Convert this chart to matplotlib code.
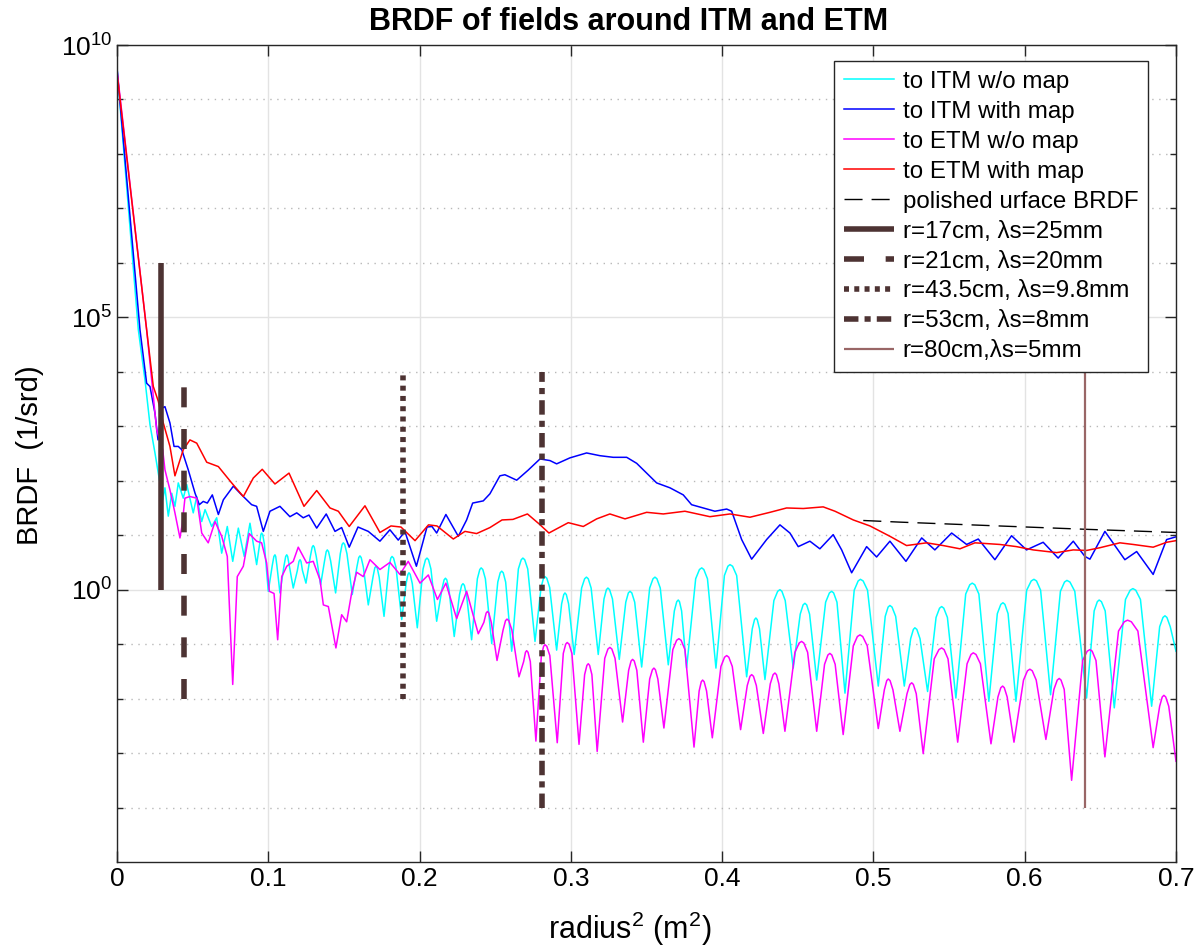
import numpy as np
import matplotlib
matplotlib.use("Agg")
import matplotlib.pyplot as plt
from matplotlib.ticker import FixedLocator, NullFormatter, LogFormatterMathtext

plt.rcParams["font.family"] = ["Liberation Sans", "DejaVu Sans"]
plt.rcParams["mathtext.default"] = "regular"

# (radius^2 [m^2], log10 BRDF [1/srd])
itm_nomap = [
    (0, 9.58), (0.0141, 4.77), (0.0185, 3.85), (0.0218, 3.03), (0.0251, 2.51),
    (0.0302, 1.65), (0.0317, 1.87), (0.0339, 1.35), (0.0362, 1.77), (0.0383, 1.53),
    (0.0405, 1.96), (0.0438, 1.68), (0.0461, 1.93), (0.0504, 1.41), (0.0527, 1.71),
    (0.0560, 1.25), (0.0582, 1.47), (0.0626, 1.16), (0.0659, 1.32), (0.0692, 0.67),
    (0.0729, 1.16), (0.0765, 0.52), (0.0802, 1.13), (0.0841, 0.61), (0.0879, 1.22),
    (0.0923, 0.46),
    (0.0943, 0.84), (0.0951, 1.01), (0.0956, 1.04), (0.0963, 1.01), (0.0974, 0.84), (0.1000, -0.03),
    (0.1026, 0.44), (0.1037, 0.61), (0.1044, 0.64), (0.1049, 0.61), (0.1057, 0.44), (0.1077, -0.06),
    (0.1104, 0.44), (0.1115, 0.61), (0.1122, 0.64), (0.1128, 0.61), (0.1139, 0.44), (0.1165, 0.03),
    (0.1192, 0.35), (0.1203, 0.52), (0.1210, 0.55), (0.1216, 0.52), (0.1226, 0.35), (0.1249, 0.12),
    (0.1278, 0.61), (0.1290, 0.78), (0.1297, 0.81), (0.1304, 0.78), (0.1317, 0.61), (0.1346, 0.09),
    (0.1372, 0.53), (0.1383, 0.70), (0.1390, 0.73), (0.1398, 0.70), (0.1412, 0.53), (0.1445, -0.06),
    (0.1476, 0.66), (0.1488, 0.83), (0.1496, 0.86), (0.1505, 0.83), (0.1520, 0.66), (0.1555, -0.09),
    (0.1586, 0.42), (0.1598, 0.59), (0.1606, 0.62), (0.1614, 0.59), (0.1628, 0.42), (0.1661, -0.28),
    (0.1692, 0.23), (0.1704, 0.40), (0.1712, 0.43), (0.1720, 0.40), (0.1733, 0.23), (0.1765, -0.49),
    (0.1797, 0.41), (0.1810, 0.58), (0.1818, 0.61), (0.1828, 0.58), (0.1844, 0.41), (0.1882, -0.55),
    (0.1911, 0.11), (0.1923, 0.28), (0.1930, 0.31), (0.1938, 0.28), (0.1952, 0.11), (0.1985, -0.70),
    (0.2023, 0.38), (0.2039, 0.55), (0.2049, 0.58), (0.2059, 0.55), (0.2075, 0.38), (0.2113, -0.58),
    (0.2148, 0.01), (0.2162, 0.18), (0.2171, 0.21), (0.2180, 0.18), (0.2194, 0.01), (0.2229, -0.86),
    (0.2264, -0.09), (0.2278, 0.08), (0.2287, 0.11), (0.2296, 0.08), (0.2310, -0.09), (0.2344, -0.92),
    (0.2382, 0.20), (0.2398, 0.37), (0.2407, 0.40), (0.2418, 0.37), (0.2435, 0.20), (0.2477, -0.99),
    (0.2517, 0.14), (0.2533, 0.31), (0.2543, 0.34), (0.2553, 0.31), (0.2569, 0.14), (0.2609, -1.13),
    (0.2653, 0.38), (0.2672, 0.55), (0.2683, 0.58), (0.2695, 0.55), (0.2715, 0.38), (0.2763, -0.95),
    (0.2803, 0.04), (0.2819, 0.21), (0.2829, 0.24), (0.2841, 0.21), (0.2860, 0.04), (0.2906, -1.11),
    (0.2939, -0.26), (0.2953, -0.09), (0.2961, -0.06), (0.2970, -0.09), (0.2985, -0.26), (0.3022, -1.19),
    (0.3071, 0.03), (0.3091, 0.20), (0.3103, 0.23), (0.3115, 0.20), (0.3134, 0.03), (0.3181, -1.19),
    (0.3219, -0.17), (0.3235, 0.00), (0.3245, 0.03), (0.3256, 0.00), (0.3275, -0.17), (0.3320, -1.28),
    (0.3363, -0.23), (0.3380, -0.06), (0.3391, -0.03), (0.3403, -0.06), (0.3422, -0.23), (0.3468, -1.42),
    (0.3521, 0.03), (0.3543, 0.20), (0.3556, 0.23), (0.3569, 0.20), (0.3591, 0.03), (0.3644, -1.38),
    (0.3684, -0.39), (0.3700, -0.22), (0.3710, -0.19), (0.3718, -0.22), (0.3732, -0.39), (0.3765, -1.44),
    (0.3825, 0.20), (0.3850, 0.37), (0.3865, 0.40), (0.3879, 0.37), (0.3903, 0.20), (0.3959, -1.44),
    (0.4015, 0.26), (0.4038, 0.43), (0.4052, 0.46), (0.4069, 0.43), (0.4096, 0.26), (0.4162, -1.60),
    (0.4199, -0.72), (0.4214, -0.55), (0.4223, -0.52), (0.4232, -0.55), (0.4247, -0.72), (0.4283, -1.65),
    (0.4342, -0.20), (0.4367, -0.03), (0.4382, 0.00), (0.4395, -0.03), (0.4417, -0.20), (0.4470, -1.44),
    (0.4516, -0.45), (0.4535, -0.28), (0.4547, -0.25), (0.4559, -0.28), (0.4578, -0.45), (0.4625, -1.66),
    (0.4684, -0.23), (0.4709, -0.06), (0.4724, -0.03), (0.4737, -0.06), (0.4759, -0.23), (0.4812, -1.90),
    (0.4873, -0.01), (0.4899, 0.16), (0.4914, 0.19), (0.4932, 0.16), (0.4961, -0.01), (0.5032, -1.77),
    (0.5078, -0.49), (0.5097, -0.32), (0.5109, -0.29), (0.5123, -0.32), (0.5147, -0.49), (0.5204, -1.77),
    (0.5246, -0.90), (0.5264, -0.73), (0.5274, -0.70), (0.5287, -0.73), (0.5308, -0.90), (0.5358, -1.87),
    (0.5414, -0.51), (0.5437, -0.34), (0.5451, -0.31), (0.5465, -0.34), (0.5489, -0.51), (0.5545, -1.99),
    (0.5610, -0.08), (0.5637, 0.09), (0.5653, 0.12), (0.5670, 0.09), (0.5697, -0.08), (0.5763, -2.05),
    (0.5819, -0.44), (0.5842, -0.27), (0.5856, -0.24), (0.5869, -0.27), (0.5890, -0.44), (0.5942, -2.05),
    (0.6013, -0.01), (0.6043, 0.16), (0.6061, 0.19), (0.6078, 0.16), (0.6105, -0.01), (0.6171, -1.93),
    (0.6236, -0.03), (0.6263, 0.14), (0.6279, 0.17), (0.6299, 0.14), (0.6331, -0.03), (0.6409, -1.99),
    (0.6459, -0.39), (0.6480, -0.22), (0.6492, -0.19), (0.6507, -0.22), (0.6532, -0.39), (0.6592, -2.17),
    (0.6666, -0.18), (0.6697, -0.01), (0.6715, 0.02), (0.6734, -0.01), (0.6765, -0.18), (0.6839, -2.14),
    (0.6892, -0.68), (0.6914, -0.51), (0.6927, -0.48), (0.6940, -0.51), (0.6962, -0.68), (0.7000, -1.13),
]

itm_map = [
    (0, 9.58), (0.0152, 4.77), (0.0196, 3.79), (0.0218, 3.73), (0.0251, 3.24),
    (0.0271, 2.75), (0.0295, 3.33), (0.0317, 3.36), (0.0350, 3.06), (0.0377, 2.63),
    (0.0405, 2.63), (0.0428, 2.57), (0.0471, 2.20), (0.0516, 1.77), (0.0544, 1.56),
    (0.0570, 1.62), (0.0597, 1.59), (0.0630, 1.74), (0.0670, 1.38), (0.0703, 1.65),
    (0.0769, 1.90), (0.0824, 1.74), (0.0890, 1.56), (0.0923, 1.53), (0.0967, 1.07),
    (0.1011, 1.44), (0.1077, 1.53), (0.1143, 1.34), (0.1188, 1.41), (0.1231, 1.32),
    (0.1269, 1.37), (0.1320, 1.13), (0.1383, 1.39), (0.1441, 1.07), (0.1485, 1.14),
    (0.1535, 0.78), (0.1593, 1.15), (0.1661, 1.07), (0.1738, 0.89), (0.1804, 1.10),
    (0.1859, 0.91), (0.1903, 1.07), (0.1979, 0.43), (0.2049, 1.15), (0.2082, 1.16),
    (0.2113, 1.04), (0.2174, 1.38), (0.2256, 0.98), (0.2311, 1.28), (0.2351, 1.59),
    (0.2421, 1.63), (0.2465, 1.76), (0.2531, 2.09), (0.2564, 2.11), (0.2642, 2.01),
    (0.2716, 2.19), (0.2796, 2.40), (0.2862, 2.37), (0.2906, 2.31), (0.2994, 2.42),
    (0.3104, 2.51), (0.3192, 2.46), (0.3280, 2.43), (0.3369, 2.43), (0.3435, 2.32),
    (0.3501, 2.14), (0.3567, 1.96), (0.3655, 1.87), (0.3743, 1.74), (0.3798, 1.56),
    (0.3875, 1.50), (0.3952, 1.44), (0.4030, 1.48), (0.4063, 1.44), (0.4129, 0.92),
    (0.4195, 0.56), (0.4294, 0.92), (0.4382, 1.19), (0.4448, 1.04), (0.4503, 0.79),
    (0.4580, 0.89), (0.4646, 0.75), (0.4734, 1.01), (0.4790, 0.73), (0.4856, 0.31),
    (0.4955, 0.79), (0.5021, 0.60), (0.5109, 0.89), (0.5215, 0.52), (0.5319, 0.95),
    (0.5406, 0.73), (0.5517, 1.04), (0.5616, 0.83), (0.5693, 0.93), (0.5803, 0.55),
    (0.5913, 0.99), (0.6012, 0.73), (0.6122, 0.87), (0.6221, 0.58), (0.6321, 0.89),
    (0.6398, 0.61), (0.6431, 0.56), (0.6530, 1.07), (0.6662, 0.55), (0.6740, 0.70),
    (0.6849, 0.28), (0.6938, 0.92), (0.7000, 0.97),
]

etm_nomap = [
    (0, 9.54), (0.0196, 4.77), (0.0229, 3.85), (0.0262, 2.94), (0.0302, 2.57),
    (0.0317, 2.20), (0.0350, 1.83), (0.0383, 1.41), (0.0416, 0.95), (0.0431, 1.20),
    (0.0449, 1.68), (0.0482, 1.71), (0.0527, 1.68), (0.0560, 1.04), (0.0603, 0.86),
    (0.0648, 1.25), (0.0692, 0.98), (0.0729, 0.61), (0.0765, -1.74), (0.0795, 0.24),
    (0.0835, 0.43), (0.0874, 1.03), (0.0923, 0.89), (0.0956, 0.86), (0.0989, 0.49),
    (0.1007, -0.03), (0.1038, -0.07), (0.1062, -0.92), (0.1089, 0.24), (0.1122, 0.43),
    (0.1165, 0.52), (0.1198, 0.78), (0.1254, 0.49), (0.1297, 0.52), (0.1342, 0.18),
    (0.1364, -0.28), (0.1397, -0.31), (0.1447, -1.07), (0.1485, -0.46), (0.1518, -0.59),
    (0.1551, -0.06), (0.1584, 0.32), (0.1628, 0.24), (0.1672, 0.55), (0.1738, 0.37),
    (0.1804, 0.50), (0.1870, 0.28), (0.1925, 0.52), (0.2003, 0.12), (0.2058, 0.27),
    (0.2118, -0.18), (0.2174, 0.12), (0.2245, -0.53), (0.2311, -0.03), (0.2388, -0.81),
    (0.2425, -0.60), (0.2440, -0.43), (0.2449, -0.40), (0.2458, -0.43), (0.2474, -0.60), (0.2512, -1.30),
    (0.2552, -0.74), (0.2568, -0.57), (0.2578, -0.54), (0.2590, -0.57), (0.2610, -0.74), (0.2657, -1.60),
    (0.2688, -1.32), (0.2700, -1.15), (0.2708, -1.12), (0.2717, -1.15), (0.2732, -1.32), (0.2769, -2.78),
    (0.2805, -1.21), (0.2820, -1.04), (0.2829, -1.01), (0.2841, -1.04), (0.2861, -1.21), (0.2910, -2.81),
    (0.2950, -1.17), (0.2966, -1.00), (0.2976, -0.97), (0.2988, -1.00), (0.3007, -1.17), (0.3054, -2.84),
    (0.3091, -1.56), (0.3106, -1.39), (0.3115, -1.36), (0.3124, -1.39), (0.3139, -1.56), (0.3174, -2.97),
    (0.3224, -1.26), (0.3245, -1.09), (0.3258, -1.06), (0.3271, -1.09), (0.3292, -1.26), (0.3342, -2.43),
    (0.3382, -1.48), (0.3398, -1.31), (0.3408, -1.28), (0.3419, -1.31), (0.3436, -1.48), (0.3479, -2.80),
    (0.3521, -1.64), (0.3539, -1.47), (0.3549, -1.44), (0.3559, -1.47), (0.3575, -1.64), (0.3615, -2.54),
    (0.3674, -1.10), (0.3699, -0.93), (0.3714, -0.90), (0.3729, -0.93), (0.3754, -1.10), (0.3814, -2.89),
    (0.3848, -1.86), (0.3862, -1.69), (0.3871, -1.66), (0.3881, -1.69), (0.3897, -1.86), (0.3935, -2.72),
    (0.3992, -1.41), (0.4016, -1.24), (0.4030, -1.21), (0.4044, -1.24), (0.4067, -1.41), (0.4122, -2.57),
    (0.4166, -1.76), (0.4184, -1.59), (0.4195, -1.56), (0.4207, -1.59), (0.4226, -1.76), (0.4272, -2.64),
    (0.4318, -1.73), (0.4337, -1.56), (0.4349, -1.53), (0.4359, -1.56), (0.4375, -1.73), (0.4415, -2.60),
    (0.4481, -1.15), (0.4509, -0.98), (0.4525, -0.95), (0.4540, -0.98), (0.4565, -1.15), (0.4625, -2.60),
    (0.4677, -1.37), (0.4699, -1.20), (0.4712, -1.17), (0.4725, -1.20), (0.4747, -1.37), (0.4800, -2.66),
    (0.4867, -1.03), (0.4894, -0.86), (0.4911, -0.83), (0.4929, -0.86), (0.4959, -1.03), (0.5032, -2.55),
    (0.5072, -1.84), (0.5088, -1.67), (0.5098, -1.64), (0.5110, -1.67), (0.5129, -1.84), (0.5175, -2.60),
    (0.5222, -1.91), (0.5241, -1.74), (0.5253, -1.71), (0.5264, -1.74), (0.5283, -1.91), (0.5329, -3.01),
    (0.5402, -1.27), (0.5433, -1.10), (0.5451, -1.07), (0.5467, -1.10), (0.5493, -1.27), (0.5557, -2.80),
    (0.5619, -1.36), (0.5645, -1.19), (0.5660, -1.16), (0.5678, -1.19), (0.5707, -1.36), (0.5777, -2.83),
    (0.5823, -1.97), (0.5842, -1.80), (0.5854, -1.77), (0.5865, -1.80), (0.5884, -1.97), (0.5929, -2.80),
    (0.5992, -1.66), (0.6018, -1.49), (0.6034, -1.46), (0.6050, -1.49), (0.6076, -1.66), (0.6140, -2.75),
    (0.6193, -1.83), (0.6215, -1.66), (0.6228, -1.63), (0.6240, -1.66), (0.6261, -1.83), (0.6310, -3.50),
    (0.6383, -1.30), (0.6413, -1.13), (0.6431, -1.10), (0.6446, -1.13), (0.6471, -1.30), (0.6530, -3.07),
    (0.6620, -0.76), (0.6658, -0.59), (0.6680, -0.56), (0.6705, -0.59), (0.6748, -0.76), (0.6849, -2.90),
    (0.6892, -2.14), (0.6909, -1.97), (0.6920, -1.94), (0.6932, -1.97), (0.6952, -2.14), (0.7000, -3.15),
]

etm_map = [
    (0, 9.49), (0.0196, 4.77), (0.0240, 3.73), (0.0273, 3.46), (0.0306, 3.06),
    (0.0350, 2.63), (0.0383, 2.09), (0.0438, 2.57), (0.0482, 2.75), (0.0527, 2.69),
    (0.0593, 2.34), (0.0670, 2.26), (0.0758, 1.96), (0.0835, 1.71), (0.0901, 2.05),
    (0.0960, 2.21), (0.1044, 1.94), (0.1137, 2.14), (0.1236, 1.53), (0.1320, 1.82),
    (0.1408, 1.50), (0.1463, 1.44), (0.1535, 1.16), (0.1639, 1.54), (0.1738, 1.05),
    (0.1811, 1.17), (0.1877, 1.15), (0.1970, 0.90), (0.2059, 1.19), (0.2115, 1.17),
    (0.2223, 0.93), (0.2300, 1.07), (0.2377, 1.03), (0.2465, 1.14), (0.2545, 1.28),
    (0.2617, 1.29), (0.2713, 1.39), (0.2789, 1.21), (0.2855, 1.04), (0.2895, 1.10),
    (0.2983, 1.23), (0.3082, 1.16), (0.3171, 1.30), (0.3258, 1.39), (0.3358, 1.30),
    (0.3501, 1.42), (0.3611, 1.39), (0.3754, 1.44), (0.3919, 1.34), (0.4052, 1.39),
    (0.4184, 1.33), (0.4316, 1.42), (0.4426, 1.50), (0.4536, 1.49), (0.4668, 1.52),
    (0.4746, 1.44), (0.4867, 1.28), (0.4977, 1.17), (0.5109, 0.98), (0.5219, 0.81),
    (0.5352, 0.86), (0.5461, 0.81), (0.5572, 0.75), (0.5671, 0.86), (0.5836, 0.83),
    (0.5946, 0.79), (0.6056, 0.73), (0.6211, 0.68), (0.6321, 0.73), (0.6409, 0.72),
    (0.6497, 0.77), (0.6629, 0.86), (0.6717, 0.83), (0.6849, 0.78), (0.6938, 0.87),
    (0.7000, 0.90),
]

polished = [(0.4933, 1.27), (0.5175, 1.24), (0.6387, 1.11), (0.7000, 1.05)]

# mirror radius, scale length and the BRDF span of each marker line
marker_r = [0.17, 0.21, 0.435, 0.53, 0.80]
marker_labels = ["r=17cm, \u03bbs=25mm", "r=21cm, \u03bbs=20mm", "r=43.5cm, \u03bbs=9.8mm",
                 "r=53cm, \u03bbs=8mm", "r=80cm,\u03bbs=5mm"]
marker_lo = [1e0, 1e-2, 1e-2, 1e-4, 1e-4]
marker_hi = [1e6, 1e4, 1e4, 1e4, 1e4]

curve_labels = ["to ITM w/o map", "to ITM with map", "to ETM w/o map", "to ETM with map"]
curve_colors = ["#00ffff", "#0000ff", "#ff00ff", "#ff0000"]

# styling for the marker lines
marker_colors = ["#4d3333", "#4d3333", "#4d3333", "#4d3333", "#996666"]
marker_lw = [4, 4, 4, 4, 1.6]
marker_ls = ["-", (0, (3.6, 3.9)), (0, (0.9, 0.95)), (0, (2.6, 1.1, 1.1, 1.1)), "-"]


fig = plt.figure(figsize=(11.98, 9.51), dpi=100)
ax = fig.add_axes([117 / 1198, 1 - 862 / 951, 1059 / 1198, 817 / 951])

for series, lab, col in zip([itm_nomap, itm_map, etm_nomap, etm_map], curve_labels, curve_colors):
    xs, ls = zip(*series)
    ax.plot(xs, 10 ** np.array(ls), color=col, lw=1.1, label=lab, zorder=2)

px, pl = zip(*polished)
ax.plot(px, 10 ** np.array(pl), color="black", lw=1.0, dashes=(13, 6.5),
        label="polished urface BRDF", zorder=2)

for r, lab, lo, hi, col, lw, ls in zip(marker_r, marker_labels, marker_lo, marker_hi,
                                       marker_colors, marker_lw, marker_ls):
    ax.plot([r ** 2, r ** 2], [lo, hi], color=col, lw=lw, linestyle=ls,
            solid_capstyle="butt", dash_capstyle="butt", label=lab, zorder=3)

ax.set_yscale("log")
ax.set_xlim(0, 0.7)
ax.set_ylim(1e-5, 1e10)

ax.set_xticks(np.arange(0, 0.71, 0.1))
ax.set_xticklabels(["0", "0.1", "0.2", "0.3", "0.4", "0.5", "0.6", "0.7"])
ax.yaxis.set_major_locator(FixedLocator([1e0, 1e5, 1e10]))
ax.yaxis.set_major_formatter(LogFormatterMathtext())
ax.yaxis.set_minor_locator(FixedLocator([10.0 ** k for k in range(-5, 11) if k % 5]))
ax.yaxis.set_minor_formatter(NullFormatter())

ax.set_axisbelow(True)
ax.grid(True, which="major", color="#e3e3e3", lw=1.0)
ax.yaxis.grid(True, which="minor", color="#b8b8b8", linestyle=(0, (1, 4)), lw=1.0)

ax.tick_params(which="both", direction="in", top=True, right=True, colors="#262626",
               labelcolor="black", labelsize=19)
ax.tick_params(which="major", length=8, width=1)
ax.tick_params(which="minor", length=4.5, width=1)
for sp in ax.spines.values():
    sp.set_color("#262626")
    sp.set_linewidth(1.0)

ax.set_title("BRDF of fields around ITM and ETM", fontsize=22, fontweight="bold",
             pad=11, x=0.4835)
ax.set_xlabel("radius$^2$ (m$^2$)", fontsize=22, va="center")
ax.xaxis.set_label_coords(0.484, -0.082)
ax.set_ylabel("BRDF  (1/srd)", fontsize=21, va="center")
ax.yaxis.set_label_coords(-0.0822, 0.498)

leg = ax.legend(loc="upper left", bbox_to_anchor=(834 / 1198, 1 - 61 / 951),
                bbox_transform=fig.transFigure, fontsize=17.4, frameon=True,
                fancybox=False, framealpha=1, edgecolor="#262626", borderpad=0.4,
                labelspacing=0.33, handlelength=2.1, handletextpad=0.35, borderaxespad=0)
leg.get_frame().set_linewidth(1.0)
leg.set_zorder(5)

fig.savefig("out.png", dpi=100)
